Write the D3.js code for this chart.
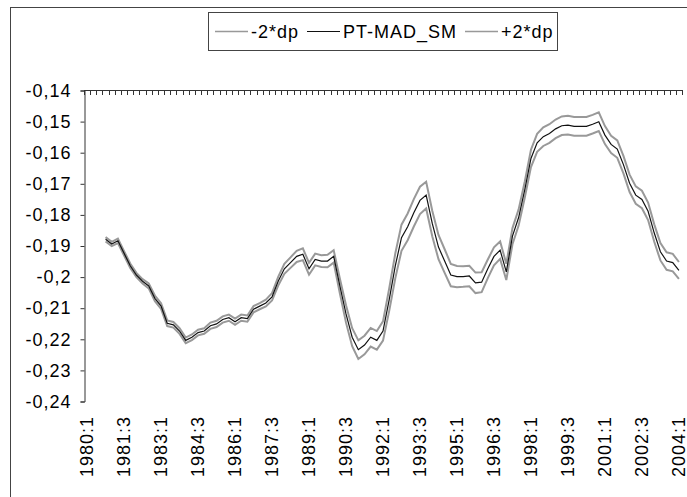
<!DOCTYPE html>
<html>
<head>
<meta charset="utf-8">
<script src="https://cdn.jsdelivr.net/npm/d3@7"></script>
<style>
    body { margin: 0; background: #fff; }
    svg text { font-family: "Liberation Sans", Arial, sans-serif; font-size: 18px; letter-spacing: 1px; fill: #000; }
</style>
</head>
<body>
<div id="chart"></div>
<script>
// quarters 1980:1 .. 2004:1 (97 categories), the series start at 1980:4
let firstYear = 1980,
    lastYear = 2004,
    lastQuarter = 1,
    seriesStart = 3;

let tickLabels = ['1980:1', '1981:3', '1983:1', '1984:3', '1986:1', '1987:3', '1989:1', '1990:3', '1992:1',
    '1993:3', '1995:1', '1996:3', '1998:1', '1999:3', '2001:1', '2002:3', '2004:1'];

let yTicks = [-0.14, -0.15, -0.16, -0.17, -0.18, -0.19, -0.2, -0.21, -0.22, -0.23, -0.24];

// PT-MAD_SM, 1980:4 .. 2004:1
let ptMadSm = [
    -0.1880, -0.1895, -0.1885, -0.1925, -0.1965, -0.1995, -0.2015, -0.2030, -0.2070, -0.2095,
    -0.2150, -0.2155, -0.2175, -0.2205, -0.2195, -0.2180, -0.2175, -0.2158, -0.2152, -0.2138,
    -0.2132, -0.2145, -0.2132, -0.2135, -0.2105, -0.2095, -0.2085, -0.2065, -0.2015, -0.1975,
    -0.1955, -0.1935, -0.1928, -0.1975, -0.1945, -0.1950, -0.1950, -0.1935, -0.2030, -0.2120,
    -0.2195, -0.2235, -0.2220, -0.2195, -0.2205, -0.2175, -0.2075, -0.1965, -0.1875, -0.1840,
    -0.1795, -0.1755, -0.1738, -0.1830, -0.1905, -0.1950, -0.1995, -0.2000, -0.2000, -0.1998,
    -0.2020, -0.2018, -0.1975, -0.1935, -0.1915, -0.1985, -0.1870, -0.1810, -0.1720, -0.1620,
    -0.1570, -0.1550, -0.1540, -0.1525, -0.1515, -0.1513, -0.1517, -0.1517, -0.1517, -0.1510,
    -0.1502, -0.1545, -0.1575, -0.1590, -0.1640, -0.1700, -0.1738, -0.1752, -0.1790, -0.1860,
    -0.1920, -0.1950, -0.1955, -0.1980
];

// dp, same quarters
let dp = [
    0.00035, 0.00035, 0.00035, 0.00035, 0.00035, 0.00035, 0.00035, 0.00040, 0.00045, 0.00045,
    0.00045, 0.00045, 0.00045, 0.00045, 0.00045, 0.00045, 0.00045, 0.00050, 0.00050, 0.00050,
    0.00050, 0.00050, 0.00050, 0.00050, 0.00050, 0.00050, 0.00055, 0.00060, 0.00070, 0.00080,
    0.00085, 0.00090, 0.00095, 0.00095, 0.00095, 0.00095, 0.00100, 0.00100, 0.00120, 0.00140,
    0.00145, 0.00150, 0.00150, 0.00150, 0.00150, 0.00155, 0.00180, 0.00200, 0.00210, 0.00215,
    0.00220, 0.00220, 0.00215, 0.00205, 0.00195, 0.00190, 0.00180, 0.00170, 0.00165, 0.00165,
    0.00165, 0.00160, 0.00150, 0.00145, 0.00140, 0.00130, 0.00130, 0.00130, 0.00130, 0.00140,
    0.00145, 0.00150, 0.00150, 0.00150, 0.00150, 0.00150, 0.00150, 0.00150, 0.00150, 0.00150,
    0.00150, 0.00145, 0.00140, 0.00140, 0.00140, 0.00140, 0.00140, 0.00140, 0.00140, 0.00140,
    0.00140, 0.00140, 0.00140, 0.00135
];

let legendItems = [
    {name: '-2*dp', color: '#999', width: 2},
    {name: 'PT-MAD_SM', color: '#111', width: 1.2},
    {name: '+2*dp', color: '#999', width: 2}
];

let categories = [];
for (let yr = firstYear; yr <= lastYear; yr++) {
    for (let q = 1; q <= 4; q++) {
        if (yr === lastYear && q > lastQuarter) break;
        categories.push(yr + ':' + q);
    }
}

let width = 687,
    height = 497,
    plot = {left: 84, top: 90, right: 682, bottom: 401};

let svg = d3.select('#chart').append('svg')
    .attr('width', width)
    .attr('height', height);

// outer chart frame (runs off the right and bottom edge)
svg.append('rect')
    .attr('x', 10.5)
    .attr('y', 7.5)
    .attr('width', 720)
    .attr('height', 540)
    .attr('fill', 'none')
    .attr('stroke', '#444');

let xScale = d3.scaleBand()
    .domain(categories)
    .range([plot.left, plot.right])
    .paddingInner(0)
    .paddingOuter(0);

let yScale = d3.scaleLinear()
    .domain([-0.24, -0.14])
    .range([plot.bottom, plot.top]);

let xc = c => xScale(c) + xScale.bandwidth() / 2;

// y axis
let yAxis = d3.axisLeft(yScale.copy().range([plot.bottom + 0.5, plot.top + 0.5]))
    .tickValues(yTicks)
    .tickSize(4)
    .tickPadding(9)
    .tickFormat(d => String(+d.toFixed(2)).replace('.', ','));

let yAxis_g = svg.append('g')
    .attr('transform', `translate(${plot.left + 0.5}, 0)`)
    .call(yAxis);

yAxis_g.select('.domain').attr('stroke', '#333');
yAxis_g.selectAll('.tick line').attr('stroke', '#333');
yAxis_g.selectAll('.tick text')
    .style('font-size', '18px')
    .style('font-family', '"Liberation Sans", Arial, sans-serif');

// category axis crosses at -0.14, ticks hang down at every quarter boundary
let topAxis_g = svg.append('g');

topAxis_g.append('line')
    .attr('x1', plot.left)
    .attr('x2', plot.right)
    .attr('y1', plot.top + 0.5)
    .attr('y2', plot.top + 0.5)
    .attr('stroke', '#333');

topAxis_g.selectAll('.qtick')
    .data(categories.concat(['end']))
    .enter().append('line')
    .attr('class', 'qtick')
    .attr('x1', (d, i) => Math.round(plot.left + i * xScale.bandwidth()) + 0.5)
    .attr('x2', (d, i) => Math.round(plot.left + i * xScale.bandwidth()) + 0.5)
    .attr('y1', plot.top)
    .attr('y2', plot.top + 5)
    .attr('stroke', '#333');

// category labels sit low, under the plot
svg.append('g').selectAll('text')
    .data(tickLabels)
    .enter().append('text')
    .attr('transform', d => `translate(${xc(d)}, 416) rotate(-90)`)
    .attr('dy', '0.35em')
    .attr('text-anchor', 'end')
    .text(d => d);

// series
let rows = ptMadSm.map((v, i) => ({
    cat: categories[seriesStart + i],
    mid: v,
    low: v - 2 * dp[i],
    high: v + 2 * dp[i]
}));

let line = key => d3.line()
    .x(d => xc(d.cat))
    .y(d => yScale(d[key]));

let series_g = svg.append('g').attr('class', 'series_g');

series_g.append('path')
    .datum(rows)
    .attr('d', line('low'))
    .attr('fill', 'none')
    .attr('stroke', legendItems[0].color)
    .attr('stroke-width', legendItems[0].width);

series_g.append('path')
    .datum(rows)
    .attr('d', line('high'))
    .attr('fill', 'none')
    .attr('stroke', legendItems[2].color)
    .attr('stroke-width', legendItems[2].width);

series_g.append('path')
    .datum(rows)
    .attr('d', line('mid'))
    .attr('fill', 'none')
    .attr('stroke', legendItems[1].color)
    .attr('stroke-width', legendItems[1].width);

// legend
let legend_g = svg.append('g').attr('class', 'legend_g');

legend_g.append('rect')
    .attr('x', 208.5)
    .attr('y', 12.5)
    .attr('width', 349)
    .attr('height', 38)
    .attr('fill', '#fff')
    .attr('stroke', '#444');

let legendX = [215, 307, 465];

legendItems.forEach(function (item, i) {
    legend_g.append('line')
        .attr('x1', legendX[i])
        .attr('x2', legendX[i] + 33)
        .attr('y1', 31.5)
        .attr('y2', 31.5)
        .attr('stroke', item.color)
        .attr('stroke-width', item.width === 2 ? 1.5 : 1.2);

    legend_g.append('text')
        .attr('x', legendX[i] + 36)
        .attr('y', 31.5)
        .attr('dy', '0.35em')
        .text(item.name);
});
</script>
</body>
</html>
